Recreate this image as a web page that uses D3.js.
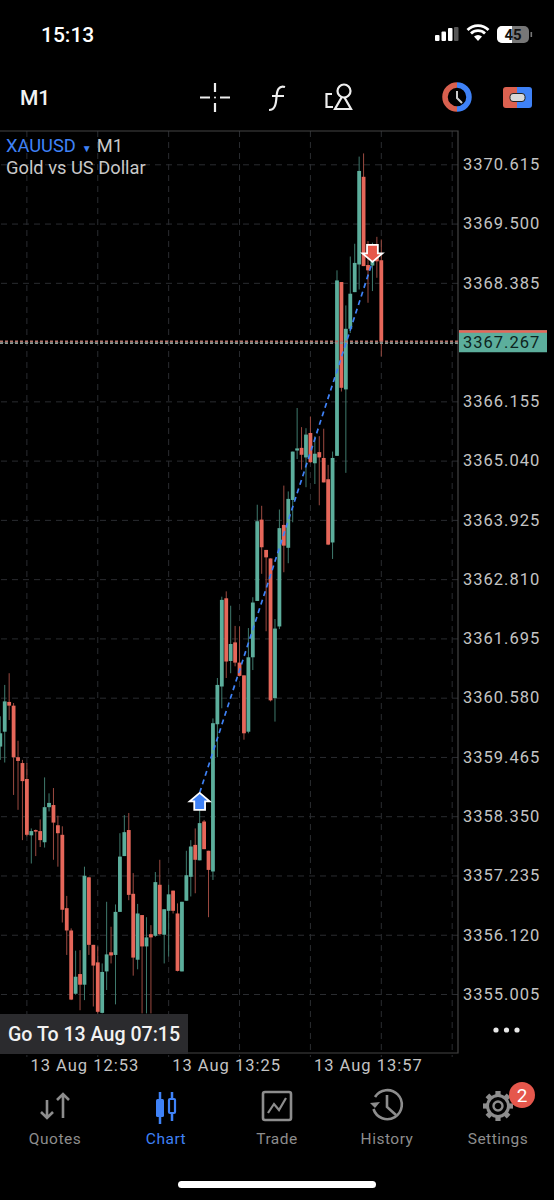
<!DOCTYPE html>
<html>
<head>
<meta charset="utf-8">
<script src="https://cdn.jsdelivr.net/npm/d3@7"></script>
<style>
html, body { margin: 0; padding: 0; background: #000; }
svg { display: block; }
text { font-family: Roboto, "Noto Sans", sans-serif; }
</style>
</head>
<body>
<svg id="chart" width="554" height="1200"></svg>
<script>
// M1 bars of XAUUSD
var opens = [3359.66,3359.94,3360.50,3360.43,3359.46,3359.35,3359.05,3357.99,3358.09,3358.07,3357.86,3358.52,3358.56,3358.18,3358.00,3356.62,3356.20,3355.01,3355.38,3355.18,3357.20,3355.93,3355.60,3354.65,3355.43,3355.79,3355.74,3356.55,3357.60,3358.09,3356.89,3355.65,3356.49,3355.90,3356.13,3356.10,3357.06,3356.12,3356.57,3356.95,3356.52,3355.43,3356.76,3357.21,3357.81,3357.52,3358.25,3357.70,3357.31,3360.08,3360.79,3362.45,3361.27,3361.62,3361.24,3361.00,3359.94,3361.34,3362.40,3363.93,3363.36,3363.20,3360.57,3361.92,3363.83,3363.40,3364.30,3365.23,3365.28,3365.10,3365.56,3364.99,3365.20,3365.09,3364.69,3363.50,3365.13,3368.40,3366.38,3367.52,3368.21,3368.73,3370.38,3368.72,3368.71,3368.90,3368.81];
var highs = [3360.23,3360.82,3361.04,3360.48,3359.77,3359.41,3359.35,3358.12,3358.10,3358.29,3359.08,3358.78,3358.88,3358.36,3358.16,3356.85,3356.24,3355.82,3355.83,3357.40,3357.21,3355.93,3355.90,3355.58,3356.74,3356.27,3356.69,3358.03,3358.37,3358.41,3357.28,3356.70,3356.49,3356.45,3356.30,3357.30,3357.53,3356.60,3357.06,3356.95,3356.71,3356.74,3357.70,3357.90,3358.12,3358.47,3358.28,3357.70,3360.19,3360.95,3362.48,3362.58,3362.31,3361.93,3361.92,3361.00,3361.89,3362.47,3364.21,3364.19,3363.36,3363.20,3362.06,3364.12,3364.57,3364.46,3365.21,3366.03,3365.67,3365.65,3365.87,3365.50,3365.50,3365.64,3364.96,3365.21,3368.62,3368.40,3367.96,3368.88,3369.12,3370.76,3370.82,3369.17,3369.14,3369.25,3369.20];
var lows = [3359.41,3359.36,3360.16,3358.75,3358.47,3357.90,3357.97,3357.46,3357.60,3357.77,3357.76,3358.44,3357.53,3357.40,3356.35,3355.74,3354.89,3354.99,3354.70,3354.89,3355.74,3354.77,3354.64,3354.64,3355.08,3355.58,3354.81,3356.55,3357.60,3356.77,3355.35,3355.47,3354.64,3354.64,3354.64,3356.08,3356.12,3355.58,3355.71,3356.52,3355.43,3355.43,3356.76,3356.84,3356.90,3357.52,3357.73,3356.45,3357.15,3359.46,3360.38,3360.95,3361.04,3361.17,3360.98,3359.79,3359.91,3361.10,3362.40,3362.91,3361.83,3360.51,3360.13,3361.87,3362.94,3363.11,3363.88,3365.07,3364.87,3364.54,3365.00,3364.60,3364.20,3364.63,3363.45,3363.19,3365.13,3366.34,3364.81,3367.44,3368.21,3368.26,3368.70,3368.01,3368.23,3368.48,3367.00];
var closes = [3359.91,3360.51,3360.43,3359.46,3359.39,3359.01,3358.00,3358.07,3358.06,3357.90,3358.52,3358.60,3358.23,3358.03,3356.59,3356.20,3354.90,3355.33,3355.18,3357.23,3355.93,3355.54,3354.67,3355.42,3355.75,3355.73,3356.55,3357.59,3358.05,3356.87,3355.69,3356.52,3355.90,3356.07,3356.07,3357.11,3356.13,3356.60,3356.88,3356.57,3355.44,3356.74,3357.24,3357.78,3357.53,3358.22,3357.73,3357.34,3360.10,3360.82,3362.42,3361.26,3361.59,3361.24,3360.99,3359.91,3361.34,3362.37,3363.90,3363.41,3363.22,3360.53,3361.88,3363.77,3363.44,3364.32,3365.21,3365.27,3365.15,3365.53,3365.01,3365.17,3365.10,3364.63,3363.46,3365.09,3368.43,3366.41,3367.52,3368.18,3368.76,3370.49,3368.70,3368.62,3368.79,3368.79,3367.28];

var priceTicks = [3370.615,3369.500,3368.385,3367.270,3366.155,3365.040,3363.925,3362.810,3361.695,3360.580,3359.465,3358.350,3357.235,3356.120,3355.005];
var gridBars = [6,22,38,54,70,86,102];
var timeBars = [6,38,70];
var timeLabels = ["13 Aug 12:53","13 Aug 13:25","13 Aug 13:57"];
var lastPrice = 3367.267;
var tradeBars = [45,84];
var tradePrices = [3358.79,3368.78];
var navLabels = ["Quotes","Chart","Trade","History","Settings"];

var upColor = "#5cae9c";
var downColor = "#e6675a";
var upWick = "#3f7a6d";
var downWick = "#9c4a40";
var blue = "#3f82f7";
var grey = "#8d8d8d";

var frameRight = 458;
var frameTop = 131;
var frameBottom = 1053;

var svg = d3.select("#chart");
svg.append("rect").attr("width", 554).attr("height", 1200).attr("fill", "#000");

var x = d3.scaleLinear().domain([0, 86]).range([0.3, 381.3]);
var y = d3.scaleLinear().domain([3355.005, 3370.615]).range([994, 164.3]);

svg.append("clipPath").attr("id", "plot")
	.append("rect").attr("x", 0).attr("y", frameTop).attr("width", frameRight).attr("height", frameBottom - frameTop);

// horizontal grid and price labels
var yAxis = d3.axisRight(y)
	.tickValues(priceTicks)
	.tickSize(-frameRight)
	.tickPadding(5)
	.tickFormat(d3.format(".3f"));

var yG = svg.append("g")
	.attr("transform", "translate(" + frameRight + ",0)")
	.call(yAxis);
yG.select(".domain").remove();
yG.selectAll("line").attr("stroke", "#2a2c30").attr("stroke-dasharray", "6,5");
yG.selectAll("text")
	.attr("fill", "#c4c4c4")
	.style("font-size", "16.5px")
	.style("letter-spacing", "1px");

// vertical grid
svg.append("g").selectAll("line")
	.data(gridBars)
	.join("line")
	.attr("x1", d => x(d))
	.attr("x2", d => x(d))
	.attr("y1", frameTop)
	.attr("y2", frameBottom + 4)
	.attr("stroke", "#2a2c30")
	.attr("stroke-dasharray", "6,5");

// frame
svg.append("path")
	.attr("d", "M0," + frameTop + "H" + frameRight + "V" + frameBottom + "H0")
	.attr("fill", "none")
	.attr("stroke", "#444")
	.attr("stroke-width", 1.2);

var bars = d3.range(opens.length);
var plot = svg.append("g").attr("clip-path", "url(#plot)");

// wicks
plot.append("g").selectAll("line")
	.data(bars)
	.join("line")
	.attr("x1", d => x(d))
	.attr("x2", d => x(d))
	.attr("y1", d => y(highs[d]))
	.attr("y2", d => y(lows[d]))
	.attr("stroke", d => closes[d] >= opens[d] ? upWick : downWick)
	.attr("stroke-width", 1);

// bodies
plot.append("g").selectAll("rect")
	.data(bars)
	.join("rect")
	.attr("x", d => x(d) - 1.9)
	.attr("width", 3.8)
	.attr("y", d => y(Math.max(opens[d], closes[d])))
	.attr("height", d => Math.max(1.5, Math.abs(y(opens[d]) - y(closes[d]))))
	.attr("fill", d => closes[d] >= opens[d] ? upColor : downColor);

// last price line, ask and bid drawn over each other
plot.append("line")
	.attr("x1", 0).attr("x2", frameRight)
	.attr("y1", y(lastPrice) - 0.8).attr("y2", y(lastPrice) - 0.8)
	.attr("stroke", "#b5736a").attr("stroke-width", 1.8).attr("stroke-dasharray", "3,2");
plot.append("line")
	.attr("x1", 0).attr("x2", frameRight)
	.attr("y1", y(lastPrice) + 0.9).attr("y2", y(lastPrice) + 0.9)
	.attr("stroke", "#8c9791").attr("stroke-width", 1.8).attr("stroke-dasharray", "3,2");

// trade line
plot.append("line")
	.attr("x1", x(tradeBars[0]))
	.attr("y1", y(tradePrices[0]))
	.attr("x2", x(tradeBars[1]))
	.attr("y2", y(tradePrices[1]))
	.attr("stroke", blue)
	.attr("stroke-width", 1.7)
	.attr("stroke-dasharray", "5,4");

// buy and sell arrows
function arrow(cx, tip, dir, fill) {
	// dir -1 = pointing up, tip is the sharp end
	var p = [[0,0],[10,8.5],[5.4,8.5],[5.4,17],[-5.4,17],[-5.4,8.5],[-10,8.5]];
	var line = d3.line().x(d => cx + d[0]).y(d => tip - dir * d[1]);
	svg.append("path")
		.attr("d", line(p) + "Z")
		.attr("fill", fill)
		.attr("stroke", "#fff")
		.attr("stroke-width", 1.8)
		.attr("stroke-linejoin", "miter");
}
arrow(x(tradeBars[0]), y(tradePrices[0]), -1, blue);
arrow(x(tradeBars[1]), y(tradePrices[1]), 1, "#e6574a");

// last price tag
var tagY = y(lastPrice);
svg.append("rect").attr("x", 459).attr("y", tagY - 12).attr("width", 88).attr("height", 22).attr("fill", upColor);
svg.append("rect").attr("x", 459).attr("y", tagY - 12).attr("width", 88).attr("height", 2.5).attr("fill", downColor);
svg.append("text")
	.attr("x", 463).attr("y", tagY + 6)
	.attr("fill", "#0d2420")
	.style("font-size", "16.5px")
	.style("letter-spacing", "1px")
	.text(d3.format(".3f")(lastPrice));

// symbol label
var sym = svg.append("text").attr("x", 6).attr("y", 152).style("font-size", "18.3px");
sym.append("tspan").attr("fill", blue).text("XAUUSD");
sym.append("tspan").attr("fill", blue).attr("dx", 6).style("font-size", "10px").text("▼");
sym.append("tspan").attr("fill", "#c9c9c9").attr("dx", 5).text("M1");
svg.append("text").attr("x", 6).attr("y", 174).attr("fill", "#c9c9c9").style("font-size", "18.3px").text("Gold vs US Dollar");

// time labels
svg.append("g").selectAll("text")
	.data(timeBars)
	.join("text")
	.attr("x", d => x(d) + 3.5)
	.attr("y", 1071)
	.attr("fill", "#c4c4c4")
	.style("font-size", "16.5px")
	.style("letter-spacing", "1px")
	.text((d, i) => timeLabels[i]);

// go to box
svg.append("rect").attr("x", 0).attr("y", 1014).attr("width", 188).attr("height", 40).attr("fill", "#2b2b2e");
svg.append("text").attr("x", 8).attr("y", 1041).attr("fill", "#f2f2f2")
	.style("font-size", "19.6px").style("font-weight", 500).text("Go To 13 Aug 07:15");

// three dots
svg.append("g").selectAll("circle")
	.data([496, 506.5, 517])
	.join("circle")
	.attr("cx", d => d).attr("cy", 1030).attr("r", 2.6).attr("fill", "#e8e8e8");

// status bar
svg.append("text").attr("x", 41).attr("y", 41.5).attr("fill", "#fff")
	.style("font-size", "21px").style("font-weight", 500).text("15:13");
[[435,35,6],[441.5,31.5,9.5],[448,28,13],[454,27,14]].forEach(function (b, i) {
	svg.append("rect").attr("x", b[0]).attr("y", b[1]).attr("width", 4.5).attr("height", b[2]).attr("rx", 1)
		.attr("fill", i == 3 ? "#555" : "#fff");
});
// wifi
var wifi = svg.append("g").attr("transform", "translate(478,41)");
wifi.append("path").attr("d", "M0,0 L-4,-4.5 A6,6 0 0 1 4,-4.5 Z").attr("fill", "#fff");
wifi.append("path").attr("d", "M-7,-7.5 A10,10 0 0 1 7,-7.5").attr("fill", "none").attr("stroke", "#fff").attr("stroke-width", 2.8);
wifi.append("path").attr("d", "M-10.5,-11 A15,15 0 0 1 10.5,-11").attr("fill", "none").attr("stroke", "#fff").attr("stroke-width", 2.8);
// battery
svg.append("rect").attr("x", 497).attr("y", 26).attr("width", 32).attr("height", 17).attr("rx", 5).attr("fill", "#777");
svg.append("path").attr("d", "M502,26H512V43H502A5,5 0 0 1 497,38V31A5,5 0 0 1 502,26Z").attr("fill", "#fff");
svg.append("rect").attr("x", 530.5).attr("y", 32).attr("width", 1.6).attr("height", 5).attr("fill", "#777");
svg.append("text").attr("x", 513).attr("y", 40).attr("text-anchor", "middle").attr("fill", "#111")
	.style("font-size", "15px").style("font-weight", 700).text("45");

// toolbar
svg.append("text").attr("x", 20).attr("y", 105).attr("fill", "#f2f2f2")
	.style("font-size", "21px").style("font-weight", 500).text("M1");
svg.append("path")
	.attr("d", "M200,97.5H210M220,97.5H230M215,83V92M215,103V112")
	.attr("stroke", "#eee").attr("stroke-width", 2.2).attr("fill", "none");
svg.append("circle").attr("cx", 215).attr("cy", 97.5).attr("r", 1).attr("fill", "#eee");
svg.append("path")
	.attr("d", "M285,87C279,85 277,90 276.5,97C276,104 275,110 269,110M272,96H284")
	.attr("stroke", "#eee").attr("stroke-width", 2.2).attr("fill", "none");
svg.append("path")
	.attr("d", "M332,94H326.5V107H333")
	.attr("stroke", "#eee").attr("stroke-width", 2.2).attr("fill", "none");
svg.append("path")
	.attr("d", "M343,95L335,109H351Z")
	.attr("stroke", "#eee").attr("stroke-width", 2.2).attr("fill", "none");
svg.append("circle").attr("cx", 344).attr("cy", 91).attr("r", 6.5)
	.attr("stroke", "#eee").attr("stroke-width", 2.2).attr("fill", "#000");
svg.append("path").attr("d", "M457,85A12,12 0 0 0 457,109").attr("stroke", "#d8604f").attr("stroke-width", 5.5).attr("fill", "none");
svg.append("path").attr("d", "M457,85A12,12 0 0 1 457,109").attr("stroke", blue).attr("stroke-width", 5.5).attr("fill", "none");
svg.append("path").attr("d", "M457,91V98L462,103").attr("stroke", "#ccc").attr("stroke-width", 2).attr("fill", "none");
svg.append("path").attr("d", "M517,87H506A3,3 0 0 0 503,90V105A3,3 0 0 0 506,108H517Z").attr("fill", "#dc6150");
svg.append("path").attr("d", "M517,87H529A3,3 0 0 1 532,90V105A3,3 0 0 1 529,108H517Z").attr("fill", blue);
svg.append("rect").attr("x", 510).attr("y", 93.5).attr("width", 15).attr("height", 8).attr("rx", 3).attr("fill", "#d8d8d8").attr("stroke", "#222");

// bottom nav
var navX = [55,166,277,387,498];
svg.append("g").selectAll("text")
	.data(navLabels)
	.join("text")
	.attr("x", (d, i) => navX[i])
	.attr("y", 1144)
	.attr("text-anchor", "middle")
	.attr("fill", d => d == "Chart" ? blue : grey)
	.style("font-size", "15.5px")
	.style("letter-spacing", "0.5px")
	.text(d => d);

// quotes icon
svg.append("path")
	.attr("d", "M47,1100V1118M41,1112L47,1118L53,1112M63,1118V1094M57,1100L63,1094L69,1100")
	.attr("stroke", grey).attr("stroke-width", 2.6).attr("fill", "none");
// chart icon
svg.append("path").attr("d", "M160,1092V1124M172,1092V1121").attr("stroke", blue).attr("stroke-width", 2.5);
svg.append("rect").attr("x", 156).attr("y", 1099).attr("width", 8).attr("height", 18).attr("rx", 1.5).attr("fill", blue);
svg.append("rect").attr("x", 169).attr("y", 1099).attr("width", 6).attr("height", 14).attr("rx", 1).attr("fill", "#000").attr("stroke", blue).attr("stroke-width", 2.2);
// trade icon
svg.append("rect").attr("x", 263).attr("y", 1092).attr("width", 28).attr("height", 28).attr("rx", 2).attr("fill", "none").attr("stroke", grey).attr("stroke-width", 2.6);
svg.append("path").attr("d", "M268,1113L274,1104L279,1110L286,1098").attr("fill", "none").attr("stroke", grey).attr("stroke-width", 2.2);
// history icon
svg.append("path").attr("d", "M375,1097A14.5,14.5 0 1 1 373.5,1109").attr("fill", "none").attr("stroke", grey).attr("stroke-width", 2.6);
svg.append("path").attr("d", "M370,1103L375,1108L380,1102Z").attr("fill", grey);
svg.append("path").attr("d", "M387,1095V1107L396,1115").attr("fill", "none").attr("stroke", grey).attr("stroke-width", 2.6);
// settings icon
var gear = svg.append("g").attr("transform", "translate(498,1106)");
gear.append("circle").attr("r", 10.5).attr("fill", "none").attr("stroke", grey).attr("stroke-width", 3);
gear.append("circle").attr("r", 4.5).attr("fill", "none").attr("stroke", grey).attr("stroke-width", 2.4);
gear.selectAll("rect")
	.data(d3.range(8))
	.join("rect")
	.attr("x", -2.6).attr("y", -15).attr("width", 5.2).attr("height", 5)
	.attr("fill", grey)
	.attr("transform", d => "rotate(" + d * 45 + ")");
svg.append("circle").attr("cx", 522).attr("cy", 1095).attr("r", 13).attr("fill", "#e5574c");
svg.append("text").attr("x", 522).attr("y", 1102).attr("text-anchor", "middle").attr("fill", "#fff")
	.style("font-size", "19px").text("2");

// home bar
svg.append("rect").attr("x", 178).attr("y", 1181).attr("width", 198).attr("height", 7).attr("rx", 3.5).attr("fill", "#fff");
</script>
</body>
</html>
